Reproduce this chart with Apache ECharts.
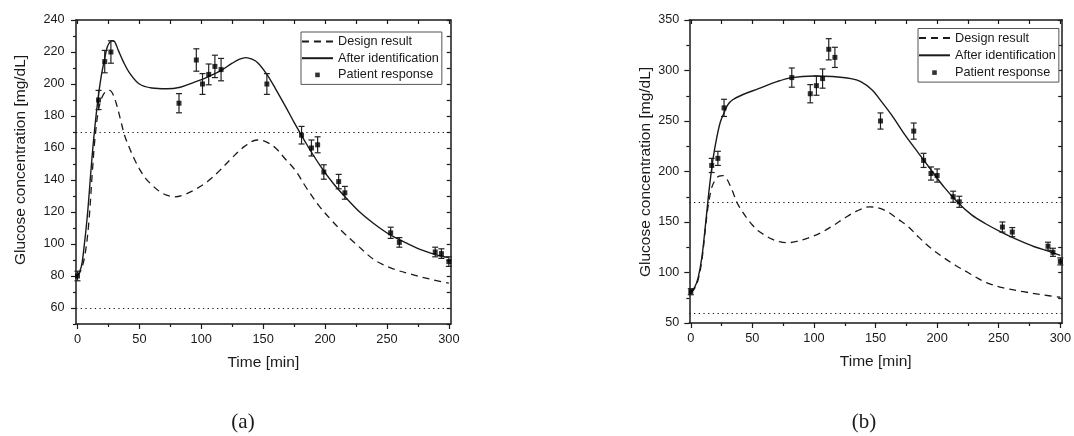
<!DOCTYPE html>
<html>
<head>
<meta charset="utf-8">
<script src="https://cdn.jsdelivr.net/npm/echarts@6/dist/echarts.min.js"></script>
<style>
html, body { margin: 0; padding: 0; background: #fff; }
#main { width: 1074px; height: 436px; }
</style>
</head>
<body>
<div id="main"></div>
<script>
// patient (a): measured glucose with error bars
var timeA = [0, 17, 22, 27, 82, 96, 101, 106, 111, 116, 153, 181, 189, 194, 199, 211, 216, 253, 260, 289, 294, 300];
var glucoseA = [80, 190, 214, 220, 188, 215, 200, 206, 211, 209, 200, 168, 160, 162, 145, 139, 132, 107, 101, 95, 94, 89];
var errA = [3, 6, 7, 7, 6, 7, 6.5, 6.5, 7, 7, 6.5, 5.5, 5, 5, 4.5, 4.5, 4, 3.5, 3, 3, 3, 3];

// patient (b)
var timeB = [0, 17, 22, 27, 82, 97, 102, 107, 112, 117, 154, 181, 189, 195, 200, 213, 218, 253, 261, 290, 294, 300];
var glucoseB = [81, 206, 213, 263, 293, 277, 285, 292, 321, 313, 250, 240, 211, 198, 196, 175, 170, 145, 140, 126, 120, 111];
var errB = [3, 7, 7, 8.5, 9.5, 9, 9.5, 9.5, 10.5, 10, 8, 8, 7, 6.5, 6.5, 5.5, 5.5, 5, 4.5, 4, 4, 3.5];

// design result (same in both panels)
var designT = [0, 3, 6, 9, 12, 14, 17, 20, 23, 26, 29, 32, 35, 38, 42, 46, 50, 55, 60, 66, 72, 78, 85, 95, 105, 115, 125, 135, 145, 152, 160, 168, 176, 185, 195, 205, 215, 225, 240, 255, 270, 285, 300];
var designV = [80, 84, 93, 112, 145, 165, 184, 192, 195.5, 196, 193, 186, 177, 168, 160, 153, 147, 141, 137, 133, 130.5, 129.5, 130.5, 134, 139, 146, 154, 161, 165, 164, 160, 153, 146, 135, 124, 115, 107, 100, 90, 84.5, 81, 78, 75.5];

// after identification
var identT_A = [0, 3, 5, 8, 11, 13, 16, 19, 22, 24, 26, 28, 30, 33, 37, 42, 50, 60, 72, 83, 94, 104, 115, 125, 131, 136, 141, 146, 153, 160, 168, 175, 185, 196, 207, 218, 228, 239, 252, 266, 279, 293, 300];
var identV_A = [80, 85.5, 96, 118, 147, 165, 187, 204, 216, 223, 226, 227, 226.5, 221, 214, 207, 200, 197.5, 197, 198, 201, 204, 208, 213, 215.5, 216.5, 215.5, 213, 206, 197, 186, 176, 162.5, 149, 137.5, 128, 120, 113, 106, 100.5, 96, 92.5, 91.5];
var identT_B = [0, 3, 6, 9, 12, 15, 18, 21, 24, 27, 30, 34, 42, 55, 70, 82, 100, 115, 130, 138, 147, 155, 163, 174, 185, 196, 206, 217, 228, 239, 252, 266, 279, 292, 300];
var identV_B = [81, 85, 95, 115, 148, 183, 212, 233, 249, 258, 266, 271, 276, 282, 289, 293, 294.5, 294, 292, 289, 281, 269, 256, 236, 218, 200, 184, 169, 157, 148.5, 140, 132, 125.5, 120.5, 117];

// ticks
var xMajor = [0, 50, 100, 150, 200, 250, 300];
var xMinor = [25, 75, 125, 175, 225, 275];
var yMajorA = [60, 80, 100, 120, 140, 160, 180, 200, 220, 240];
var yMinorA = [50, 70, 90, 110, 130, 150, 170, 190, 210, 230];
var yMajorB = [50, 100, 150, 200, 250, 300, 350];
var yMinorB = [75, 125, 175, 225, 275, 325];
var limits = [170, 60];

var FONT = '"Liberation Sans", Arial, sans-serif';
var INK = '#1a1a1a';

function pairs(t, v) {
  var out = [];
  for (var i = 0; i < t.length; i++) out.push([t[i], v[i]]);
  return out;
}
function triples(t, v, e) {
  var out = [];
  for (var i = 0; i < t.length; i++) out.push([t[i], v[i], e[i]]);
  return out;
}

var lineStyleAxis = { color: INK, width: 1.5 };

function xAxes(gi) {
  var base = { gridIndex: gi, type: 'value', min: -1.2, max: 301.5, splitLine: { show: false } };
  return [
    Object.assign({}, base, {
      position: 'bottom',
      name: 'Time [min]', nameLocation: 'middle', nameGap: 31,
      nameTextStyle: { fontSize: 15.5, color: INK, fontFamily: FONT },
      axisLine: { onZero: false, lineStyle: lineStyleAxis },
      axisTick: { customValues: xMajor, length: 5, lineStyle: { color: INK, width: 1.2 } },
      axisLabel: { customValues: xMajor, margin: 9, fontSize: 12.8, color: INK, fontFamily: FONT }
    }),
    Object.assign({}, base, {
      position: 'bottom',
      axisLine: { show: false, onZero: false },
      axisTick: { customValues: xMinor, length: 3, lineStyle: { color: INK, width: 1.2 } },
      axisLabel: { show: false }
    }),
    Object.assign({}, base, {
      position: 'top',
      axisLine: { onZero: false, lineStyle: lineStyleAxis },
      axisTick: { inside: true, customValues: xMajor.concat(xMinor), length: 4, lineStyle: { color: INK, width: 1.2 } },
      axisLabel: { show: false }
    })
  ];
}

function yAxes(gi, min, max, major, minor, margin) {
  var base = { gridIndex: gi, type: 'value', min: min, max: max, splitLine: { show: false } };
  return [
    Object.assign({}, base, {
      position: 'left',
      axisLine: { onZero: false, lineStyle: lineStyleAxis },
      axisTick: { customValues: major, length: 5, lineStyle: { color: INK, width: 1.2 } },
      axisLabel: { customValues: major, margin: margin, fontSize: 12.6, color: INK, fontFamily: FONT }
    }),
    Object.assign({}, base, {
      position: 'left',
      axisLine: { show: false, onZero: false },
      axisTick: { customValues: minor, length: 3, lineStyle: { color: INK, width: 1.2 } },
      axisLabel: { show: false }
    }),
    Object.assign({}, base, {
      position: 'right',
      axisLine: { onZero: false, lineStyle: lineStyleAxis },
      axisTick: { inside: true, customValues: major.concat(minor), length: 4, lineStyle: { color: INK, width: 1.2 } },
      axisLabel: { show: false }
    })
  ];
}

function errorBars(params, api) {
  var x = api.value(0), y = api.value(1), e = api.value(2);
  var hi = api.coord([x, y + e]);
  var lo = api.coord([x, y - e]);
  var w = 3;
  var st = { stroke: '#222', lineWidth: 1.2, fill: null };
  return {
    type: 'group',
    children: [
      { type: 'line', shape: { x1: hi[0], y1: hi[1], x2: lo[0], y2: lo[1] }, style: st },
      { type: 'line', shape: { x1: hi[0] - w, y1: hi[1], x2: hi[0] + w, y2: hi[1] }, style: st },
      { type: 'line', shape: { x1: lo[0] - w, y1: lo[1], x2: lo[0] + w, y2: lo[1] }, style: st }
    ]
  };
}

function panelSeries(xi, yi, identT, identV, t, v, e) {
  return [
    {
      name: 'Design result', type: 'line', xAxisIndex: xi, yAxisIndex: yi,
      data: pairs(designT, designV), symbol: 'none', smooth: 0.35,
      lineStyle: { color: INK, width: 1.3, type: [7, 5] },
      markLine: {
        silent: true, symbol: 'none', label: { show: false },
        lineStyle: { color: INK, width: 1.1, type: [1.3, 3.4] },
        data: limits.map(function (l) { return { yAxis: l }; })
      }
    },
    {
      name: 'After identification', type: 'line', xAxisIndex: xi, yAxisIndex: yi,
      data: pairs(identT, identV), symbol: 'none', smooth: 0.35,
      lineStyle: { color: INK, width: 1.4, type: 'solid' }
    },
    {
      name: 'errorbars', type: 'custom', xAxisIndex: xi, yAxisIndex: yi,
      data: triples(t, v, e), encode: { x: 0, y: 1 }, renderItem: errorBars, z: 3
    },
    {
      name: 'Patient response', type: 'scatter', xAxisIndex: xi, yAxisIndex: yi,
      data: pairs(t, v), symbol: 'rect', symbolSize: 5,
      itemStyle: { color: '#000' }, z: 4
    }
  ];
}

var squareIcon = 'path://M0,0M31,12M13.2,3.7L17.8,3.7L17.8,8.3L13.2,8.3Z';
function legendAt(left, top, gap) {
  return {
    orient: 'vertical', left: left, top: top, selectedMode: false,
    padding: [3, 3, 3, 0], itemGap: gap, itemWidth: 31, itemHeight: 12,
    borderColor: '#555', borderWidth: 1, backgroundColor: '#fff',
    textStyle: { fontSize: 12.7, color: INK, fontFamily: FONT, lineHeight: 12 },
    data: [
      { name: 'Design result', itemStyle: { opacity: 0 } },
      { name: 'After identification', itemStyle: { opacity: 0 } },
      { name: 'Patient response', icon: squareIcon }
    ]
  };
}

var chart = echarts.init(document.getElementById('main'));
var option = {
  animation: false,
  backgroundColor: '#fff',
  textStyle: { fontFamily: FONT },
  grid: [
    { left: 76, top: 20, width: 374.7, height: 304 },
    { left: 689.3, top: 20, width: 375.7, height: 303 }
  ],
  xAxis: xAxes(0).concat(xAxes(1)),
  yAxis: yAxes(0, 50, 240, yMajorA, yMinorA, 11.5).concat(yAxes(1, 50, 350, yMajorB, yMinorB, 10)),
  legend: [legendAt(301, 32, 3.7), legendAt(918, 28.5, 4.3)],
  series: panelSeries(0, 0, identT_A, identV_A, timeA, glucoseA, errA)
    .concat(panelSeries(3, 3, identT_B, identV_B, timeB, glucoseB, errB)),
  graphic: [
    { type: 'text', x: 21, y: 160, rotation: Math.PI / 2,
      style: { text: 'Glucose concentration [mg/dL]', font: '15.5px ' + FONT, fill: INK,
        align: 'center', verticalAlign: 'middle', textAlign: 'center', textVerticalAlign: 'middle' } },
    { type: 'text', x: 645.5, y: 172, rotation: Math.PI / 2,
      style: { text: 'Glucose concentration [mg/dL]', font: '15.5px ' + FONT, fill: INK,
        align: 'center', verticalAlign: 'middle', textAlign: 'center', textVerticalAlign: 'middle' } },
    { type: 'text', x: 243, y: 422,
      style: { text: '(a)', font: '21px "Liberation Serif", serif', fill: INK,
        align: 'center', verticalAlign: 'middle', textAlign: 'center', textVerticalAlign: 'middle' } },
    { type: 'text', x: 864, y: 422,
      style: { text: '(b)', font: '21px "Liberation Serif", serif', fill: INK,
        align: 'center', verticalAlign: 'middle', textAlign: 'center', textVerticalAlign: 'middle' } }
  ]
};
chart.setOption(option);
</script>
</body>
</html>
